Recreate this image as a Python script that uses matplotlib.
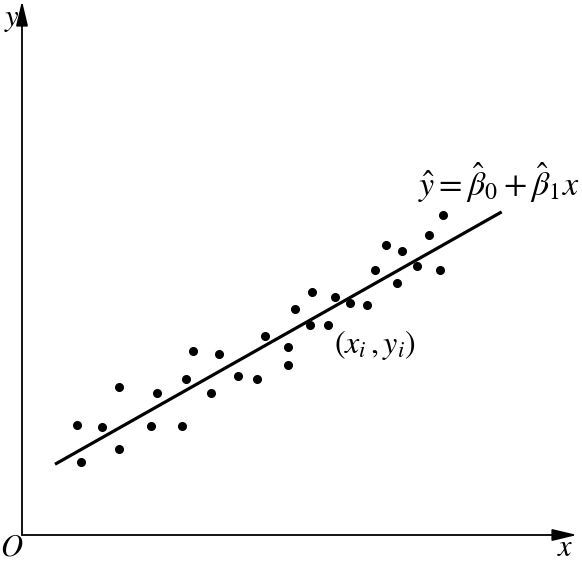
import numpy as np
import matplotlib
matplotlib.use("Agg")
import matplotlib.pyplot as plt

plt.rcParams["mathtext.fontset"] = "stix"
plt.rcParams["font.family"] = "STIXGeneral"

# observations (x_i, y_i), origin at O
x_obs = [54.7, 59.3, 79.7, 97, 97, 128.7, 134.7, 159.7, 163.7, 171.3, 188.7,
         197, 215.7, 234.7, 243, 265.7, 265.7, 273.3, 288, 289.7, 306.3, 313,
         328, 344.7, 353, 363.7, 375, 379.7, 395.3, 407, 417.7, 420.7]
y_obs = [110, 73.3, 108.3, 147.7, 86.3, 109, 142.3, 109.3, 156.3, 184, 142.3,
         181, 159.5, 156, 199.3, 188.3, 170, 226, 210, 243.3, 210, 237.7,
         232.3, 230, 264.7, 290.3, 252, 284.3, 269.3, 300.3, 264.7, 320]

# fitted line y = b0 + b1 x
b0 = 52.1
b1 = 0.565
x_fit = [33, 479.7]

fig = plt.figure(figsize=(5.82, 5.63), dpi=100)
ax = fig.add_axes([0, 0, 1, 1])
ax.set_xlim(-22, 560)
ax.set_ylim(-28, 535)
ax.axis("off")

# axes with arrows
arrow = dict(arrowstyle="-|>,head_length=0.75,head_width=0.18", color="black",
             lw=1.3, mutation_scale=20, shrinkA=0, shrinkB=0)
ax.annotate("", xy=(555, 0), xytext=(0, 0), arrowprops=arrow)
ax.annotate("", xy=(0, 534), xytext=(0, 0), arrowprops=arrow)

xf = np.array(x_fit)
ax.plot(xf, b0 + b1 * xf, color="black", lw=2.3, solid_capstyle="butt")
ax.plot(x_obs, y_obs, "o", color="black", markersize=5.5)

ax.text(-10, 515, "$y$", fontsize=22, ha="center", va="center")
ax.text(-10, -14, "$O$", fontsize=22, ha="center", va="center")
ax.text(543, -14, "$x$", fontsize=22, ha="center", va="center")
ax.text(396, 352, r"$\hat{y}=\hat{\beta}_0+\hat{\beta}_1x$", fontsize=24.5,
        ha="left", va="center")
ax.text(312, 190, "$(x_i\,,y_i)$", fontsize=23, ha="left", va="center")

fig.savefig("out.png", dpi=100)
